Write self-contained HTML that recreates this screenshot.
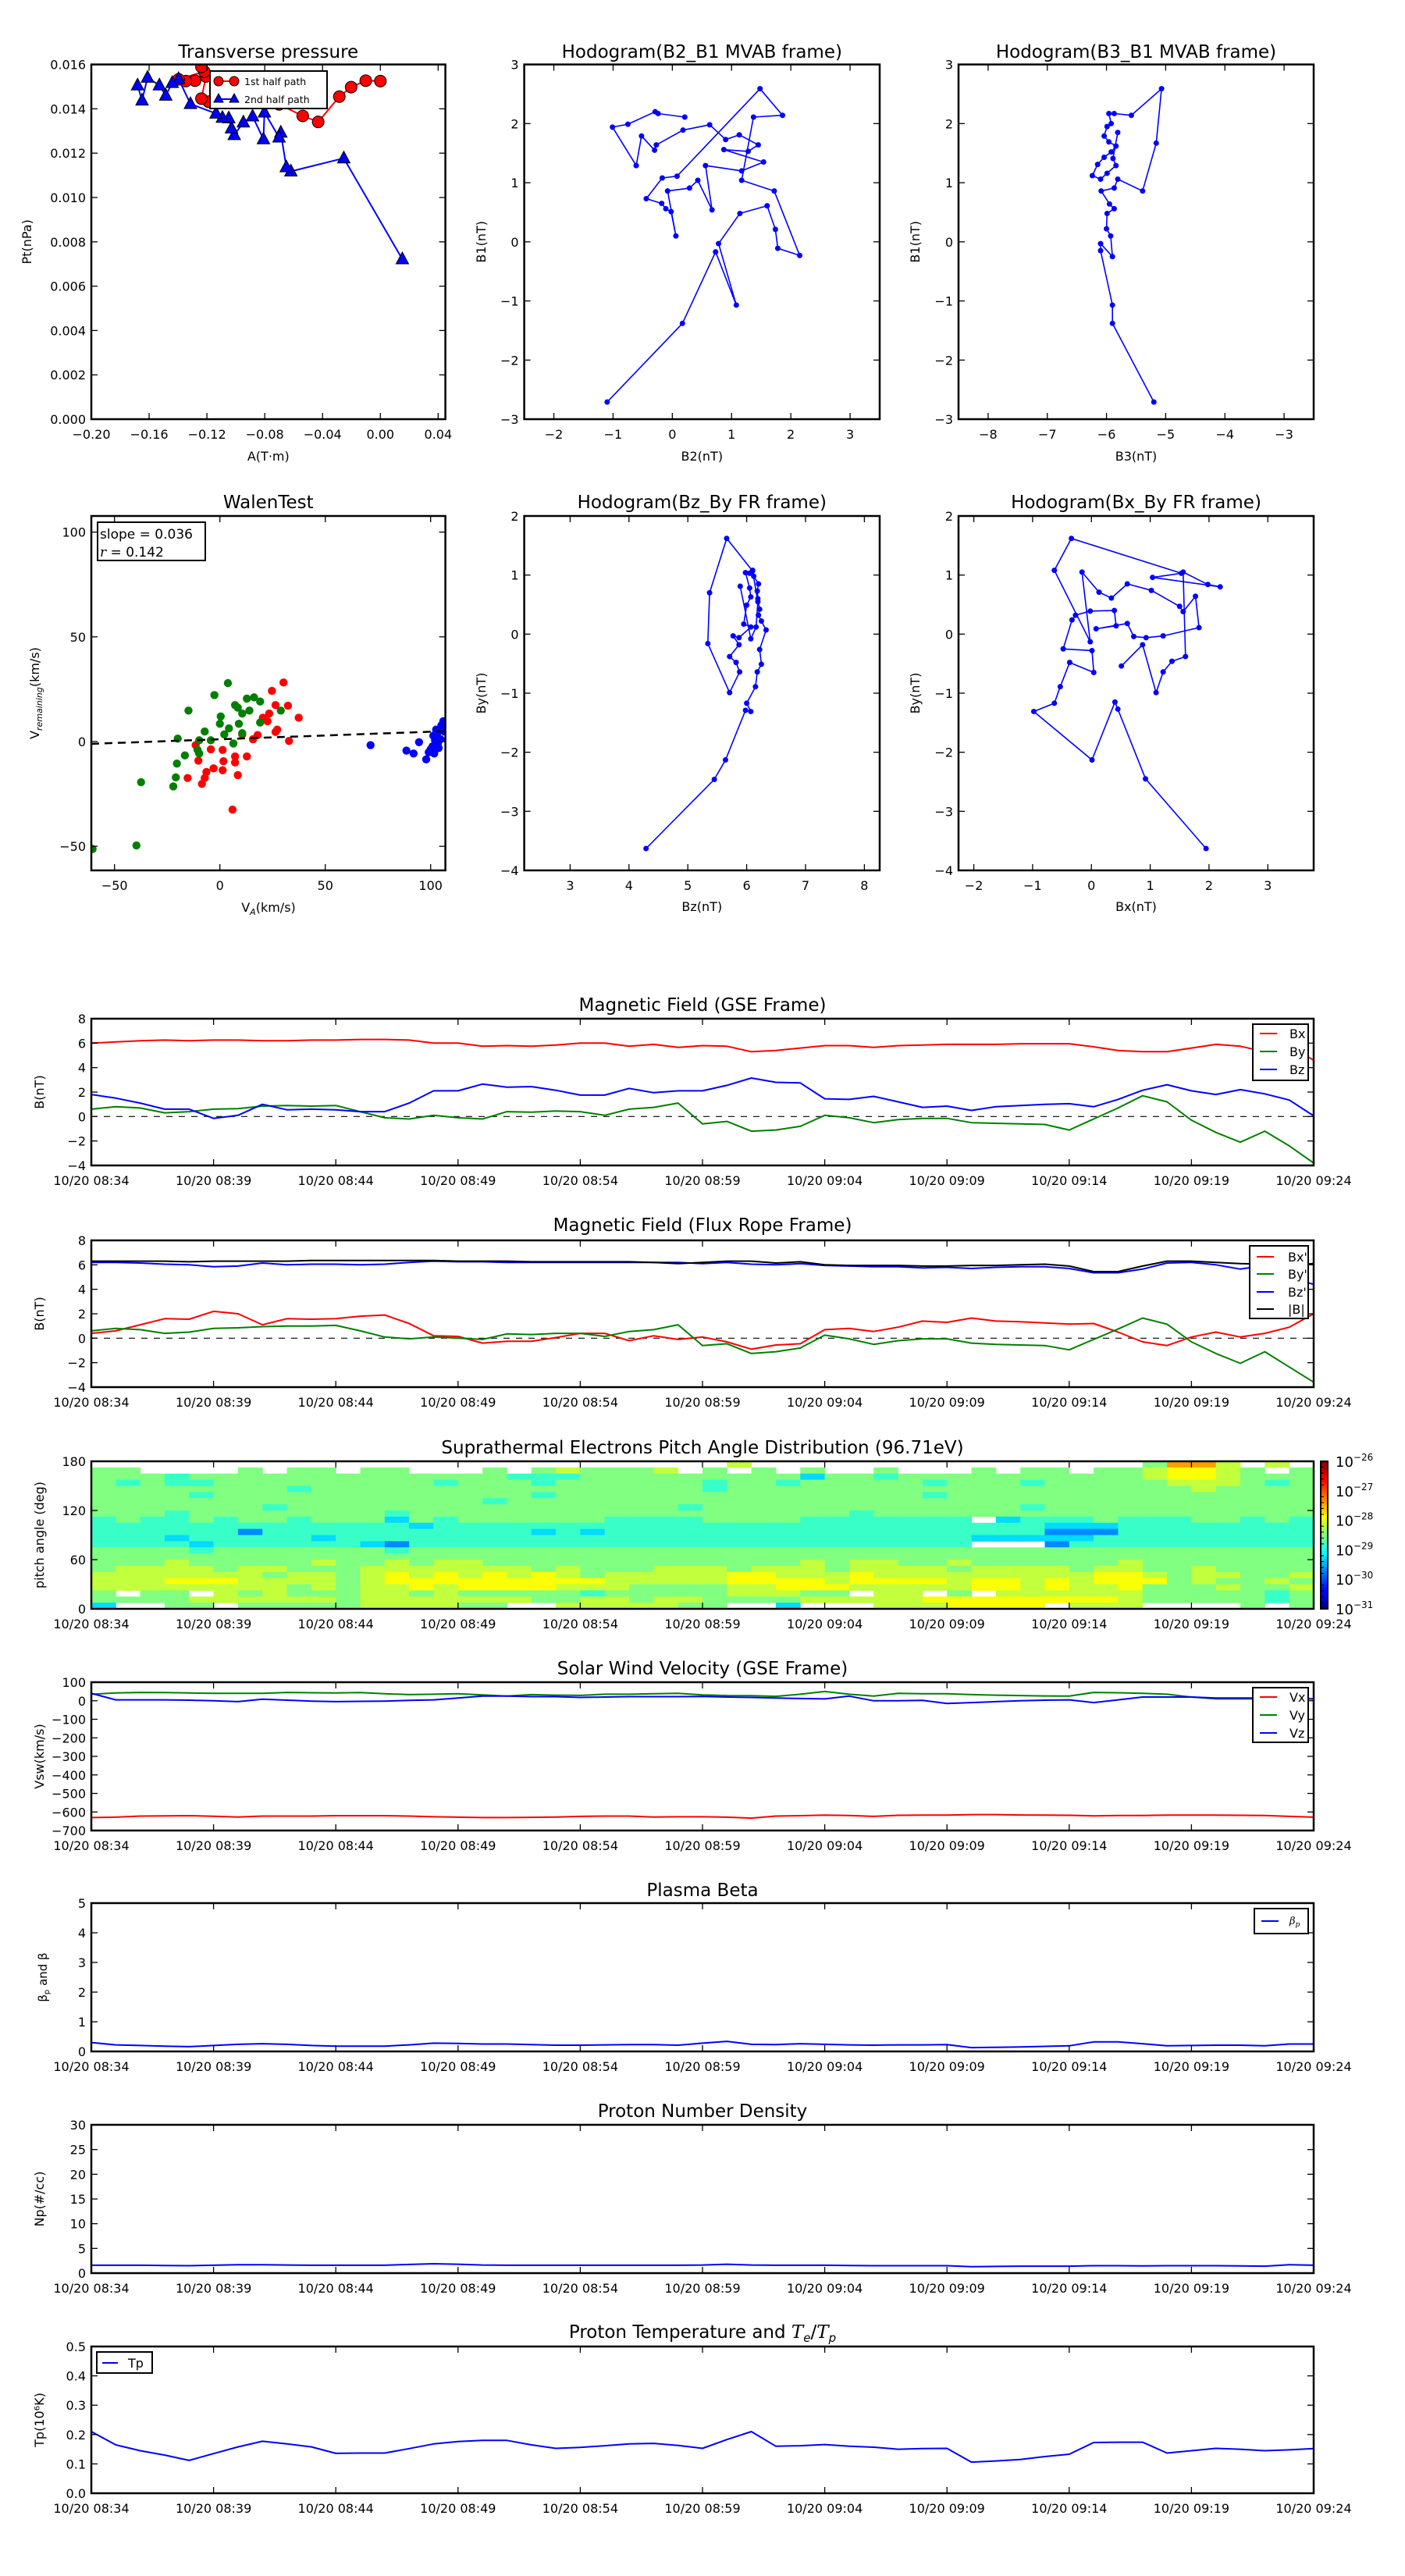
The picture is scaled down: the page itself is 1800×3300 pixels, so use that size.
<!DOCTYPE html>
<html><head><meta charset="utf-8">
<style>
html,body{margin:0;padding:0;background:#fff;}
svg{display:block;font-family:"DejaVu Sans","Liberation Sans",sans-serif;}
</style></head>
<body>
<svg id="fig" width="1800" height="3300" viewBox="0 0 1800 3300" xmlns="http://www.w3.org/2000/svg">
<defs>
<linearGradient id="jetgrad" x1="0" y1="1" x2="0" y2="0">
<stop offset="0" stop-color="#00007f"/><stop offset="0.11" stop-color="#0000ff"/><stop offset="0.125" stop-color="#0000ff"/><stop offset="0.34" stop-color="#00d4ff"/><stop offset="0.375" stop-color="#0ff"/><stop offset="0.5" stop-color="#7fff7f"/><stop offset="0.625" stop-color="#ff0"/><stop offset="0.66" stop-color="#ffd000"/><stop offset="0.875" stop-color="#ff0000"/><stop offset="1" stop-color="#7f0000"/>
</linearGradient>
</defs>
</svg>
<script>
// ---------- DATA ----------
const minutes = [0,1,2,3,4,5,6,7,8,9,10,11,12,13,14,15,16,17,18,19,20,21,22,23,24,25,26,27,28,29,30,31,32,33,34,35,36,37,38,39,40,41,42,43,44,45,46,47,48,49,50];
const timeTickMinutes = [0,5,10,15,20,25,30,35,40,45,50];
const timeTickLabels = ["10/20 08:34","10/20 08:39","10/20 08:44","10/20 08:49","10/20 08:54","10/20 08:59","10/20 09:04","10/20 09:09","10/20 09:14","10/20 09:19","10/20 09:24"];

const bxGse = [6.0,6.1,6.2,6.25,6.2,6.25,6.25,6.2,6.2,6.25,6.25,6.3,6.3,6.25,6.0,6.0,5.75,5.8,5.75,5.85,6.0,6.0,5.75,5.9,5.65,5.8,5.75,5.3,5.4,5.6,5.8,5.8,5.65,5.8,5.85,5.9,5.9,5.9,5.95,5.95,5.95,5.7,5.4,5.3,5.3,5.6,5.9,5.75,5.3,5.8,4.6];
const byGse = [0.6,0.8,0.7,0.3,0.4,0.6,0.65,0.85,0.9,0.85,0.9,0.4,-0.1,-0.2,0.1,-0.1,-0.2,0.4,0.35,0.45,0.4,0.1,0.6,0.75,1.1,-0.6,-0.4,-1.2,-1.1,-0.8,0.1,-0.1,-0.5,-0.25,-0.15,-0.15,-0.5,-0.55,-0.6,-0.65,-1.1,-0.2,0.7,1.7,1.2,-0.3,-1.3,-2.1,-1.2,-2.4,-3.8];
const bzGse = [1.8,1.5,1.1,0.6,0.6,-0.15,0.1,1.0,0.55,0.6,0.55,0.4,0.4,1.1,2.1,2.1,2.65,2.4,2.45,2.15,1.75,1.75,2.3,1.95,2.1,2.1,2.55,3.15,2.8,2.75,1.45,1.4,1.65,1.2,0.75,0.85,0.5,0.8,0.9,1.0,1.05,0.8,1.4,2.15,2.6,2.1,1.8,2.2,1.85,1.35,0.05];

const bxFr = [0.4,0.6,1.1,1.6,1.55,2.2,2.0,1.1,1.6,1.55,1.6,1.8,1.9,1.2,0.2,0.15,-0.4,-0.25,-0.25,0.05,0.4,0.4,-0.2,0.2,-0.1,0.1,-0.3,-0.9,-0.55,-0.45,0.7,0.8,0.55,0.9,1.4,1.3,1.65,1.4,1.35,1.25,1.15,1.2,0.5,-0.3,-0.6,0.1,0.5,0.1,0.4,0.9,2.0];
const byFr = [0.6,0.8,0.7,0.4,0.5,0.8,0.85,0.95,1.0,1.0,1.05,0.6,0.1,-0.05,0.1,0.0,-0.1,0.35,0.3,0.4,0.4,0.15,0.55,0.7,1.1,-0.6,-0.45,-1.25,-1.1,-0.8,0.25,-0.05,-0.5,-0.2,-0.05,-0.05,-0.4,-0.5,-0.55,-0.6,-0.95,-0.1,0.75,1.65,1.15,-0.3,-1.25,-2.05,-1.1,-2.35,-3.6];
const bzFr = [6.2,6.2,6.15,6.05,6.0,5.85,5.9,6.15,6.0,6.05,6.05,6.0,6.05,6.2,6.3,6.25,6.25,6.2,6.2,6.2,6.2,6.2,6.2,6.2,6.2,6.1,6.2,6.05,6.0,6.1,5.95,5.9,5.85,5.85,5.75,5.8,5.7,5.8,5.85,5.85,5.7,5.35,5.35,5.65,6.15,6.2,6.0,5.65,5.95,5.0,4.4];
const bmagFr = [6.3,6.3,6.3,6.3,6.25,6.3,6.3,6.3,6.3,6.35,6.35,6.35,6.35,6.35,6.35,6.3,6.3,6.3,6.25,6.25,6.25,6.25,6.25,6.2,6.1,6.2,6.3,6.3,6.15,6.25,6.0,5.95,5.95,5.95,5.9,5.9,5.95,5.95,6.0,6.05,5.9,5.45,5.45,5.9,6.3,6.3,6.2,6.1,6.05,6.0,6.1];

const vxSw = [-630,-628,-622,-621,-620,-623,-627,-622,-622,-622,-620,-620,-620,-622,-626,-628,-630,-630,-629,-627,-624,-622,-622,-627,-626,-626,-628,-633,-622,-620,-617,-619,-624,-618,-617,-617,-614,-614,-616,-617,-618,-621,-619,-619,-617,-617,-617,-618,-619,-624,-628];
const vySw = [35,42,45,44,42,40,40,40,45,43,42,44,38,33,35,38,32,25,33,30,29,35,35,38,40,32,28,27,24,35,50,35,25,40,38,38,33,30,28,26,25,45,43,40,35,20,10,10,10,10,10];
const vzSw = [40,5,5,5,3,0,-5,8,3,-2,-5,-3,-2,2,5,15,25,25,22,22,18,20,22,22,22,23,20,18,15,12,10,25,0,0,2,-15,-10,-5,0,3,5,-10,5,20,20,20,15,15,15,15,10];

const betaP = [0.3,0.22,0.2,0.18,0.16,0.2,0.24,0.26,0.24,0.2,0.18,0.18,0.18,0.22,0.28,0.27,0.25,0.25,0.23,0.21,0.21,0.22,0.23,0.23,0.21,0.28,0.34,0.24,0.23,0.26,0.24,0.22,0.21,0.22,0.22,0.23,0.13,0.14,0.15,0.17,0.19,0.32,0.32,0.26,0.19,0.2,0.21,0.21,0.19,0.25,0.25];
const npDensity = [1.6,1.6,1.6,1.55,1.5,1.6,1.7,1.7,1.65,1.6,1.6,1.6,1.6,1.75,1.9,1.8,1.65,1.6,1.6,1.6,1.6,1.6,1.6,1.6,1.6,1.65,1.8,1.65,1.6,1.6,1.6,1.55,1.5,1.5,1.5,1.5,1.3,1.35,1.4,1.4,1.4,1.5,1.5,1.45,1.5,1.5,1.5,1.45,1.4,1.7,1.6];
const tpTemp = [0.21,0.165,0.145,0.13,0.112,0.135,0.158,0.177,0.168,0.158,0.136,0.137,0.137,0.152,0.168,0.176,0.18,0.18,0.165,0.153,0.156,0.162,0.168,0.17,0.163,0.153,0.183,0.21,0.16,0.162,0.166,0.16,0.157,0.15,0.152,0.153,0.106,0.11,0.115,0.125,0.133,0.173,0.174,0.174,0.137,0.145,0.153,0.15,0.145,0.148,0.152];

// pitch angle distribution: rows top (172.5-180 deg) to bottom (0-7.5 deg); digit = level, '.' = no data
const padRows = [
"..........|..........|......6...|..........|...5886.6.",
"55....5.55|.55...5.56|5556.5.5.5|..5...5.55|.5567765.5",
"5554555555|5555555444|5555555553|5545555555|5556776555",
"5454455555|5555455545|5555545545|5555455545|5555666545",
"5555555545|5555555555|5555545555|5555555555|5555565555",
"5555455555|5555555545|5555555555|5555455555|5555555555",
"5555555555|5555554555|5555555555|5555555555|5555555555",
"5555555455|5555555555|5555455555|5555555545|5555555555",
"5554555555|5545555555|5555555555|5455555555|5555555555",
"4544545545|5535455555|5444455554|444444.344|4544455454",
"4444444444|4443444444|4444444444|4444444443|3344444444",
"4444442444|4444444434|3444444444|4444444442|2244444444",
"4443444443|4444444444|4444444444|4444443333|3444444444",
"4444344444|4324444444|4444444444|444444...2|4444444444",
"5555455555|5545555555|5555555555|5555555555|5555555555",
"5555555555|5555555555|5555555555|5555555555|5555555555",
"5556555556|5565665555|5555555556|5665565555|5565555555",
"5666656655|5666666656|5556665666|5666656666|5665565555",
"6666666566|5676767676|5666667766|6766666666|6776566556",
"6667776666|5677777777|7666667777|6777767767|6777565565",
"6666666656|5667677776|6655556677|7666667767|6675556556",
"5.55.65655|5665655555|4555556665|5.66.5.666|6665555545",
"5555666666|5666666655|6656655556|6666777777|7765555545",
"3..55.5555|5666655..6|666655..3.|..6667777.|666....5.5"
];
const padBinDeg = 7.5;
const padLevelLog = [-30.5,-30.1,-29.7,-29.3,-28.85,-28.5,-28.175,-27.9,-27.4,-26.9];
const cbarTickExp = [-31,-30,-29,-28,-27,-26];

// transverse pressure
const tpA1 = [0,-0.0101,-0.0202,-0.0284,-0.043,-0.0537,-0.07,-0.09,-0.11,-0.1188,-0.1238,-0.1207,-0.1282,-0.1346,-0.1396,-0.1219,-0.1238];
const tpP1 = [0.01525,0.01527,0.01498,0.01455,0.01341,0.01368,0.0142,0.0143,0.0143,0.01432,0.01446,0.01546,0.01527,0.01525,0.01533,0.01568,0.01589];
const tpA2 = [0.0152,-0.0253,-0.0619,-0.0651,-0.0689,-0.0701,-0.0802,-0.0809,-0.0884,-0.0948,-0.1011,-0.103,-0.1049,-0.1093,-0.1137,-0.1314,-0.1396,-0.144,-0.1485,-0.1529,-0.1611,-0.1649,-0.168];
const tpP2 = [0.00722,0.01177,0.01118,0.01137,0.01293,0.01271,0.01384,0.01263,0.01366,0.01339,0.01282,0.01312,0.01358,0.0136,0.01379,0.01422,0.01535,0.01517,0.0146,0.01506,0.01541,0.01438,0.01506];

// hodogram B2-B1
const hB2 = [-1.10,0.17,0.73,1.08,0.78,1.14,1.60,1.74,1.78,2.15,1.72,1.17,1.37,1.86,1.48,0.08,-0.17,-0.44,-0.18,-0.11,-0.02,0.06,-0.08,0.29,0.43,0.67,0.56,1.17,1.54,0.87,1.28,1.45,1.13,0.90,0.63,0.18,-0.27,-0.30,-0.52,-0.61,-1.01,-0.75,-0.29,-0.24,0.21];
const hB1a = [-2.71,-1.38,-0.17,-1.07,-0.03,0.48,0.61,0.21,-0.11,-0.23,0.86,1.04,2.11,2.14,2.59,1.11,1.08,0.73,0.65,0.56,0.51,0.10,0.86,0.91,1.04,0.54,1.29,1.20,1.35,1.56,1.53,1.64,1.81,1.73,1.98,1.89,1.64,1.55,1.79,1.29,1.94,1.99,2.20,2.17,2.11];
// hodogram B3-B1
const hB3 = [-5.20,-5.90,-5.90,-6.10,-6.10,-5.90,-5.93,-6.00,-5.99,-5.87,-5.95,-6.09,-5.87,-5.81,-5.39,-5.16,-5.07,-5.58,-5.87,-5.96,-5.92,-5.99,-6.04,-5.96,-5.84,-5.92,-6.04,-6.15,-6.24,-6.10,-5.99,-5.84,-5.89,-5.81];
const hB1b = [-2.71,-1.38,-1.07,-0.15,-0.03,-0.25,0.10,0.22,0.48,0.56,0.64,0.86,0.91,1.06,0.86,1.67,2.59,2.14,2.17,2.17,2.00,1.95,1.79,1.69,1.62,1.52,1.43,1.31,1.12,1.06,1.16,1.29,1.41,1.85];

// Walen test
const walenRedVA = [30.2,24.7,32.3,26.4,37.4,20.4,22.6,27.2,26.4,32.8,17.9,15.7,12.8,7.2,7.2,1.3,1.7,1.3,-3.0,-6.4,-7.2,8.5,-8.5,-15.3,6.0,-10.2,-11.5,-4.3,10.6,23.4];
const walenRedVR = [28.2,24.2,17.1,17.4,11.4,11.4,9.7,5.7,4.6,0.3,3.1,1.1,-7.1,-7.1,-10.0,-4.0,-9.4,-13.7,-12.8,-14.5,-17.4,-16.0,-20.2,-17.4,-32.5,-9.1,-1.7,-3.7,3.4,13.4];
const walenGreenVA = [3.8,-2.6,-14.9,7.2,12.8,16.2,19.1,14.0,10.6,8.5,0.4,0.0,4.3,9.0,10.6,6.4,-7.2,-9.8,-20.0,-10.6,-16.6,-20.4,-20.9,-22.1,-37.4,-39.6,-60.4,19.1,28.9,2.1,-4.3,-9.8];
const walenGreenVR = [27.9,22.2,14.8,17.4,20.5,21.1,19.1,14.8,13.4,16.2,12.0,8.5,6.3,8.5,4.0,-0.9,4.8,0.6,1.4,-4.0,-6.6,-10.5,-17.1,-21.4,-19.4,-49.6,-51.3,9.1,14.8,3.4,0.6,-5.7];
const walenBlueVA = [71.5,88.5,91.9,94.5,97.9,99.1,100.9,102.1,103.0,104.3,105.1,106.0,101.3,103.4,100.0,102.6,104.7,101.7,103.8,106.4];
const walenBlueVR = [-1.7,-4.3,-5.7,-0.3,-8.5,-5.1,-2.3,0.6,3.4,5.7,7.7,9.7,2.8,-0.9,-3.7,5.7,1.1,-5.7,-3.1,4.8];
const walenSlope = [0.036];
const walenIntercept = [1.1];

// hodogram Bz-By (FR)
const hBz = [4.29,5.45,5.64,5.98,6.07,6.00,6.15,6.18,6.25,6.22,6.33,6.25,6.20,6.22,6.19,6.18,6.20,6.12,6.10,6.05,5.98,6.05,6.07,6.00,5.95,6.07,5.87,5.77,5.87,5.71,5.82,5.88,5.71,5.34,5.37,5.66,6.10,6.19,6.16,6.07,5.89];
const hByA = [-3.63,-2.46,-2.13,-1.29,-1.31,-1.17,-0.89,-0.64,-0.51,-0.26,0.07,0.22,0.32,0.42,0.60,0.73,0.85,0.98,1.08,1.03,1.04,0.78,0.63,0.49,0.17,0.12,-0.06,-0.03,-0.18,-0.38,-0.48,-0.64,-0.99,-0.16,0.70,1.62,1.07,0.55,0.12,-0.08,0.81];
// hodogram Bx-By (FR)
const hBx = [1.95,0.92,0.45,0.40,0.01,-0.98,-0.63,-0.53,-0.37,0.04,0.01,-0.48,-0.33,-0.27,-0.02,0.39,0.42,0.08,0.61,0.72,0.93,1.22,1.83,1.77,1.56,1.50,1.02,0.61,0.34,0.13,-0.16,-0.02,-0.63,-0.34,1.53,1.04,2.19,1.98,1.56,1.60,1.37,1.22,1.10,0.87,0.51];
const hByB = [-3.63,-2.45,-1.27,-1.15,-2.13,-1.31,-1.17,-0.89,-0.48,-0.65,-0.28,-0.25,0.24,0.32,0.39,0.40,0.14,0.09,0.18,-0.04,-0.06,-0.03,0.11,0.64,0.38,0.47,0.74,0.85,0.61,0.71,1.05,-0.13,1.08,1.62,1.03,0.96,0.80,0.84,1.05,-0.38,-0.46,-0.64,-0.99,-0.18,-0.54];

// ---------- DRAWING ----------
const NS='http://www.w3.org/2000/svg';
const svg=document.getElementById('fig');
let clipCount=0;
function mk(parent, tag, attrs, name){
  const e=document.createElementNS(NS,tag);
  for(const k in attrs) e.setAttribute(k,attrs[k]);
  
  
  (parent||svg).appendChild(e);
  return e;
}
function txt(parent, x, y, s, size, anchor, name, extra){
  const a={x:x,y:y,'font-size':size,'text-anchor':anchor||'middle',fill:'#000'};
  if(extra) for(const k in extra) a[k]=extra[k];
  const t=mk(parent,'text',a,name);
  t.textContent=s;
  return t;
}

function makeAxes(cfg){
  const g=mk(svg,'g',{},cfg.name);
  const b=cfg.box;
  const sx=v=>b[0]+(v-cfg.xd[0])/(cfg.xd[1]-cfg.xd[0])*(b[2]-b[0]);
  const sy=v=>b[3]-(v-cfg.yd[0])/(cfg.yd[1]-cfg.yd[0])*(b[3]-b[1]);
  const cid='clip'+(clipCount++);
  const cp=mk(g,'clipPath',{id:cid},cfg.name+'-clip');
  mk(cp,'rect',{x:b[0],y:b[1],width:b[2]-b[0],height:b[3]-b[1]},cfg.name+'-clip-rect');
  const data=mk(g,'g',{'clip-path':'url(#'+cid+')'},cfg.name+'-data');
  const ax=mk(g,'g',{},cfg.name+'-axes');
  cfg.xt.forEach((v,i)=>{
    const x=sx(v);
    mk(ax,'line',{x1:x,x2:x,y1:b[3],y2:b[3]-8,stroke:'#000','stroke-width':1.3},'x-tick');
    mk(ax,'line',{x1:x,x2:x,y1:b[1],y2:b[1]+8,stroke:'#000','stroke-width':1.3},'x-tick-top');
    txt(ax,x,b[3]+25,cfg.xl[i],16,'middle','x-tick-label');
  });
  cfg.yt.forEach((v,i)=>{
    const y=sy(v);
    mk(ax,'line',{x1:b[0],x2:b[0]+8,y1:y,y2:y,stroke:'#000','stroke-width':1.3},'y-tick');
    mk(ax,'line',{x1:b[2],x2:b[2]-8,y1:y,y2:y,stroke:'#000','stroke-width':1.3},'y-tick-right');
    txt(ax,b[0]-7,y+6,cfg.yl[i],16,'end','y-tick-label');
  });
  mk(ax,'rect',{x:b[0],y:b[1],width:b[2]-b[0],height:b[3]-b[1],fill:'none',stroke:'#000','stroke-width':2.5},cfg.name+'-frame');
  if(cfg.title) txt(ax,(b[0]+b[2])/2,cfg.titleY,cfg.title,23,'middle',cfg.name+'-title');
  if(cfg.xlab) txt(ax,(b[0]+b[2])/2,cfg.xlabY,cfg.xlab,16,'middle','x-axis-title');
  if(cfg.ylab){
    const yy=(b[1]+b[3])/2;
    txt(ax,cfg.ylabX,yy,cfg.ylab,16,'middle','y-axis-title',{transform:'rotate(-90 '+cfg.ylabX+' '+yy+')'});
  }
  return {sx,sy,data,ax,g};
}
function polyline(A,xs,ys,color,name,extra){
  const pts=xs.map((x,i)=>A.sx(x).toFixed(1)+','+A.sy(ys[i]).toFixed(1)).join(' ');
  const a={points:pts,fill:'none',stroke:color,'stroke-width':2,'stroke-linejoin':'round'};
  if(extra) for(const k in extra) a[k]=extra[k];
  return mk(A.data,'polyline',a,name);
}
function dots(A,xs,ys,color,r,name){
  xs.forEach((x,i)=>{ mk(A.data,'circle',{cx:A.sx(x),cy:A.sy(ys[i]),r:r,fill:color,stroke:'none'},name); });
}
function legend(x0,y0,x1,y1,items,name,lineX0,lineX1,textX,ys){
  const g=mk(svg,'g',{},name);
  mk(g,'rect',{x:x0,y:y0,width:x1-x0,height:y1-y0,fill:'#fff',stroke:'#000','stroke-width':2},name+'-box');
  items.forEach((it,i)=>{
    mk(g,'line',{x1:lineX0,x2:lineX1,y1:ys[i],y2:ys[i],stroke:it[1],'stroke-width':2},'legend-line-'+it[0]);
    txt(g,textX,ys[i]+6,it[0],16,'start','legend-entry-'+it[0]);
  });
  return g;
}

// ---------- TOP ROW ----------
const r1=[82.6,537], r2=[661,1115];
const ax1=makeAxes({name:'transverse-pressure-chart',box:[117,r1[0],570.6,r1[1]],xd:[-0.2,0.045],yd:[0,0.016],
  xt:[-0.2,-0.16,-0.12,-0.08,-0.04,0,0.04],xl:['\u22120.20','\u22120.16','\u22120.12','\u22120.08','\u22120.04','0.00','0.04'],
  yt:[0,0.002,0.004,0.006,0.008,0.01,0.012,0.014,0.016],yl:['0.000','0.002','0.004','0.006','0.008','0.010','0.012','0.014','0.016'],
  title:'Transverse pressure',titleY:74,xlab:'A(T\u00b7m)',xlabY:590,ylab:'Pt(nPa)',ylabX:40});
polyline(ax1,tpA1,tpP1,'red','first-half-path-line');
tpA1.forEach((x,i)=>{ mk(ax1.data,'circle',{cx:ax1.sx(x),cy:ax1.sy(tpP1[i]),r:7.5,fill:'red',stroke:'#000','stroke-width':1},'first-half-marker'); });
polyline(ax1,tpA2,tpP2,'blue','second-half-path-line');
tpA2.forEach((x,i)=>{ const cx=ax1.sx(x), cy=ax1.sy(tpP2[i]);
  mk(ax1.data,'polygon',{points:(cx)+','+(cy-9)+' '+(cx-8)+','+(cy+6)+' '+(cx+8)+','+(cy+6),fill:'blue',stroke:'#000','stroke-width':1},'second-half-marker'); });
{ const g=mk(svg,'g',{},'transverse-legend');
  mk(g,'rect',{x:269,y:91,width:150,height:48,fill:'#fff',stroke:'#000','stroke-width':2},'transverse-legend-box');
  mk(g,'line',{x1:280,x2:302,y1:104,y2:104,stroke:'red','stroke-width':2},'legend-line-first');
  mk(g,'circle',{cx:280,cy:104,r:6,fill:'red',stroke:'#000'},'legend-marker-first');
  mk(g,'circle',{cx:300,cy:104,r:6,fill:'red',stroke:'#000'},'legend-marker-first');
  txt(g,313,109,'1st half path',12.5,'start','legend-entry-first-half');
  mk(g,'line',{x1:280,x2:302,y1:127,y2:127,stroke:'blue','stroke-width':2},'legend-line-second');
  mk(g,'polygon',{points:'280,120 274,131 286,131',fill:'blue',stroke:'#000'},'legend-marker-second');
  mk(g,'polygon',{points:'300,120 294,131 306,131',fill:'blue',stroke:'#000'},'legend-marker-second');
  txt(g,313,132,'2nd half path',12.5,'start','legend-entry-second-half');
}

const ax2=makeAxes({name:'hodogram-b2-b1-chart',box:[671.6,r1[0],1127,r1[1]],xd:[-2.5,3.5],yd:[-3,3],
  xt:[-2,-1,0,1,2,3],xl:['\u22122','\u22121','0','1','2','3'],yt:[-3,-2,-1,0,1,2,3],yl:['\u22123','\u22122','\u22121','0','1','2','3'],
  title:'Hodogram(B2_B1 MVAB frame)',titleY:74,xlab:'B2(nT)',xlabY:590,ylab:'B1(nT)',ylabX:622});
polyline(ax2,hB2,hB1a,'blue','hodogram-b2-b1-line',{'stroke-width':1.6});
dots(ax2,hB2,hB1a,'blue',3.5,'hodogram-b2-b1-point');

const ax3=makeAxes({name:'hodogram-b3-b1-chart',box:[1228,r1[0],1683,r1[1]],xd:[-8.5,-2.5],yd:[-3,3],
  xt:[-8,-7,-6,-5,-4,-3],xl:['\u22128','\u22127','\u22126','\u22125','\u22124','\u22123'],yt:[-3,-2,-1,0,1,2,3],yl:['\u22123','\u22122','\u22121','0','1','2','3'],
  title:'Hodogram(B3_B1 MVAB frame)',titleY:74,xlab:'B3(nT)',xlabY:590,ylab:'B1(nT)',ylabX:1178});
polyline(ax3,hB3,hB1b,'blue','hodogram-b3-b1-line',{'stroke-width':1.6});
dots(ax3,hB3,hB1b,'blue',3.5,'hodogram-b3-b1-point');

// ---------- SECOND ROW ----------
const ax4=makeAxes({name:'walen-test-chart',box:[117,r2[0],570.6,r2[1]],xd:[-61,107],yd:[-61.5,107.7],
  xt:[-50,0,50,100],xl:['\u221250','0','50','100'],yt:[-50,0,50,100],yl:['\u221250','0','50','100'],
  title:'WalenTest',titleY:651,xlab:'',xlabY:0,ylab:'',ylabX:40});
dots(ax4,walenRedVA,walenRedVR,'#ff0000',5.2,'walen-red-point');
dots(ax4,walenGreenVA,walenGreenVR,'#007f00',5.2,'walen-green-point');
dots(ax4,walenBlueVA,walenBlueVR,'#0000ff',5.2,'walen-blue-point');
{ const xs=[-61,107]; const ys=xs.map(x=>walenSlope[0]*x+walenIntercept[0]);
  polyline(ax4,xs,ys,'#000','walen-fit-line',{'stroke-dasharray':'10,7','stroke-width':2.5}); }
{ const g=mk(svg,'g',{},'walen-stats-box');
  mk(g,'rect',{x:125,y:669,width:138,height:49,fill:'#fff',stroke:'#000','stroke-width':2},'walen-stats-frame');
  txt(g,128,690,'slope = 0.036',17,'start','walen-slope-text');
  const t=txt(g,128,713,'',17,'start','walen-r-text');
  const a=document.createElementNS(NS,'tspan'); a.setAttribute('font-style','italic'); a.setAttribute('font-family','"DejaVu Serif",serif'); a.textContent='r'; t.appendChild(a);
  const b=document.createElementNS(NS,'tspan'); b.textContent=' = 0.142'; t.appendChild(b);
  const xl=txt(svg,344,1168,'V',16,'middle','walen-x-axis-title');
  const s1=document.createElementNS(NS,'tspan'); s1.setAttribute('font-size','11'); s1.setAttribute('font-style','italic'); s1.setAttribute('dy','4'); s1.textContent='A'; xl.appendChild(s1);
  const s2=document.createElementNS(NS,'tspan'); s2.setAttribute('dy','-4'); s2.textContent='(km/s)'; xl.appendChild(s2);
  const yl=txt(svg,50,888,'V',16,'middle','walen-y-axis-title',{transform:'rotate(-90 50 888)'});
  const s3=document.createElementNS(NS,'tspan'); s3.setAttribute('font-size','11'); s3.setAttribute('font-style','italic'); s3.setAttribute('dy','4'); s3.textContent='remaining'; yl.appendChild(s3);
  const s4=document.createElementNS(NS,'tspan'); s4.setAttribute('dy','-4'); s4.textContent='(km/s)'; yl.appendChild(s4);
}

const ax5=makeAxes({name:'hodogram-bz-by-chart',box:[671.6,r2[0],1127,r2[1]],xd:[2.22,8.26],yd:[-4,2],
  xt:[3,4,5,6,7,8],xl:['3','4','5','6','7','8'],yt:[-4,-3,-2,-1,0,1,2],yl:['\u22124','\u22123','\u22122','\u22121','0','1','2'],
  title:'Hodogram(Bz_By FR frame)',titleY:651,xlab:'Bz(nT)',xlabY:1167,ylab:'By(nT)',ylabX:622});
polyline(ax5,hBz,hByA,'blue','hodogram-bz-by-line',{'stroke-width':1.6});
dots(ax5,hBz,hByA,'blue',3.5,'hodogram-bz-by-point');

const ax6=makeAxes({name:'hodogram-bx-by-chart',box:[1228,r2[0],1683,r2[1]],xd:[-2.26,3.78],yd:[-4,2],
  xt:[-2,-1,0,1,2,3],xl:['\u22122','\u22121','0','1','2','3'],yt:[-4,-3,-2,-1,0,1,2],yl:['\u22124','\u22123','\u22122','\u22121','0','1','2'],
  title:'Hodogram(Bx_By FR frame)',titleY:651,xlab:'Bx(nT)',xlabY:1167,ylab:'By(nT)',ylabX:1178});
polyline(ax6,hBx,hByB,'blue','hodogram-bx-by-line',{'stroke-width':1.6});
dots(ax6,hBx,hByB,'blue',3.5,'hodogram-bx-by-point');

// ---------- TIME SERIES ----------
function timeAxes(name,top,bot,yd,yt,yl,title,titleY,ylab){
  return makeAxes({name:name,box:[117,top,1683,bot],xd:[0,50],yd:yd,xt:timeTickMinutes,xl:timeTickLabels,
    yt:yt,yl:yl,title:title,titleY:titleY,xlab:'',ylab:ylab,ylabX:56});
}
const bTicks=[-4,-2,0,2,4,6,8], bLabels=['\u22124','\u22122','0','2','4','6','8'];
const gse=timeAxes('magnetic-field-gse-chart',1305,1493,[-4,8],bTicks,bLabels,'Magnetic Field (GSE Frame)',1295,'B(nT)');
polyline(gse,[0,50],[0,0],'#000','zero-line',{'stroke-dasharray':'8,8','stroke-width':1.2});
polyline(gse,minutes,bxGse,'red','bx-gse-line');
polyline(gse,minutes,byGse,'green','by-gse-line');
polyline(gse,minutes,bzGse,'blue','bz-gse-line');
legend(1605,1312,1676,1384,[['Bx','red'],['By','green'],['Bz','blue']],'gse-legend',1614,1636,1652,[1324,1347,1370]);

const fr=timeAxes('magnetic-field-flux-rope-chart',1589,1777,[-4,8],bTicks,bLabels,'Magnetic Field (Flux Rope Frame)',1577,'B(nT)');
polyline(fr,[0,50],[0,0],'#000','zero-line',{'stroke-dasharray':'8,8','stroke-width':1.2});
polyline(fr,minutes,bxFr,'red','bx-fr-line');
polyline(fr,minutes,byFr,'green','by-fr-line');
polyline(fr,minutes,bzFr,'blue','bz-fr-line');
polyline(fr,minutes,bmagFr,'#000','bmag-fr-line');
legend(1601,1596,1676,1689,[["Bx'",'red'],["By'",'green'],["Bz'",'blue'],['|B|','#000']],'flux-rope-legend',1610,1632,1650,[1610,1632,1655,1677]);

// PAD heatmap
const pad=makeAxes({name:'pitch-angle-distribution-chart',box:[117,1872,1683,2061],xd:[0,50],yd:[0,180],xt:timeTickMinutes,xl:timeTickLabels,
  yt:[0,60,120,180],yl:['0','60','120','180'],title:'Suprathermal Electrons Pitch Angle Distribution (96.71eV)',titleY:1862,xlab:'',ylab:'pitch angle (deg)',ylabX:56});
function jet(f){ const c=v=>Math.round(255*Math.max(0,Math.min(1,v)));
  return 'rgb('+c(1.5-Math.abs(4*f-3))+','+c(1.5-Math.abs(4*f-2))+','+c(1.5-Math.abs(4*f-1))+')'; }
padRows.forEach((row,ri)=>{
  const s=row.replace(/\|/g,'');
  const bin=padRows.length-1-ri;
  for(let c=0;c<50;c++){
    const ch=s[c]; if(!ch||ch==='.') continue;
    const v=padLevelLog[+ch];
    const f=(v+31)/5;
    const x0=pad.sx(minutes[c]), x1=pad.sx(minutes[c+1]);
    const y0=pad.sy((bin+1)*padBinDeg), y1=pad.sy(bin*padBinDeg);
    mk(pad.data,'rect',{x:x0,y:y0,width:x1-x0+0.5,height:y1-y0+0.5,fill:jet(f)},'pad-cell');
  }
});
pad.g.appendChild(pad.ax);
{ const g=mk(svg,'g',{},'colorbar');
  mk(g,'rect',{x:1692,y:1872,width:9,height:189,fill:'url(#jetgrad)',stroke:'#000','stroke-width':2},'colorbar-gradient');
  cbarTickExp.forEach(e=>{
    const y=2061-(e+31)/5*189;
    for(let k=1;k<5&&e<-26;k++){ const yy=y-k*189/25; mk(g,'line',{x1:1692,x2:1696,y1:yy,y2:yy,stroke:'#000','stroke-width':1},'colorbar-minor-tick'); }
    const t=txt(g,1711,y+7,'10',18,'start','colorbar-tick-label');
    const sp=document.createElementNS(NS,'tspan'); sp.setAttribute('font-size','12'); sp.setAttribute('dy','-8'); sp.textContent='\u2212'+(-e); t.appendChild(sp);
  });
}

const sw=timeAxes('solar-wind-velocity-chart',2155,2345,[-700,100],[-700,-600,-500,-400,-300,-200,-100,0,100],
  ['\u2212700','\u2212600','\u2212500','\u2212400','\u2212300','\u2212200','\u2212100','0','100'],'Solar Wind Velocity (GSE Frame)',2145,'Vsw(km/s)');
polyline(sw,minutes,vxSw,'red','vx-line');
polyline(sw,minutes,vySw,'green','vy-line');
polyline(sw,minutes,vzSw,'blue','vz-line');
legend(1605,2162,1676,2232,[['Vx','red'],['Vy','green'],['Vz','blue']],'velocity-legend',1614,1636,1652,[2174,2197,2220]);

const beta=timeAxes('plasma-beta-chart',2438,2628,[0,5],[0,1,2,3,4,5],['0','1','2','3','4','5'],'Plasma Beta',2429,'');
polyline(beta,minutes,betaP,'blue','beta-p-line');
{ const g=mk(svg,'g',{},'beta-legend');
  mk(g,'rect',{x:1607,y:2445,width:69,height:32,fill:'#fff',stroke:'#000','stroke-width':2},'beta-legend-box');
  mk(g,'line',{x1:1616,x2:1638,y1:2461,y2:2461,stroke:'blue','stroke-width':2},'legend-line-beta');
  const t=txt(g,1652,2465,'\u03b2',13,'start','legend-entry-beta-p',{'font-style':'italic','font-family':'"DejaVu Serif",serif'});
  const sp=document.createElementNS(NS,'tspan'); sp.setAttribute('font-size','9'); sp.setAttribute('dy','3'); sp.textContent='p'; t.appendChild(sp);
  const yl=txt(svg,60,2533,'\u03b2',15,'middle','beta-y-axis-title',{transform:'rotate(-90 60 2533)'});
  const a=document.createElementNS(NS,'tspan'); a.setAttribute('font-size','10'); a.setAttribute('dy','3'); a.textContent='p'; yl.appendChild(a);
  const b=document.createElementNS(NS,'tspan'); b.setAttribute('dy','-3'); b.textContent=' and \u03b2'; yl.appendChild(b);
}

const np=timeAxes('proton-density-chart',2722,2912,[0,30],[0,5,10,15,20,25,30],['0','5','10','15','20','25','30'],'Proton Number Density',2712,'Np(#/cc)');
polyline(np,minutes,npDensity,'blue','np-line');

const tp=timeAxes('proton-temperature-chart',3006,3194,[0,0.5],[0,0.1,0.2,0.3,0.4,0.5],['0.0','0.1','0.2','0.3','0.4','0.5'],'',0,'Tp(10\u2076K)');
polyline(tp,minutes,tpTemp,'blue','tp-line');
{ const t=txt(svg,900,2995,'Proton Temperature and ',23,'middle','proton-temperature-title');
  const a=document.createElementNS(NS,'tspan'); a.setAttribute('font-style','italic'); a.setAttribute('font-family','"DejaVu Serif",serif'); a.textContent='T'; t.appendChild(a);
  const b=document.createElementNS(NS,'tspan'); b.setAttribute('font-size','15'); b.setAttribute('font-style','italic'); b.setAttribute('dy','5'); b.textContent='e'; t.appendChild(b);
  const c=document.createElementNS(NS,'tspan'); c.setAttribute('dy','-5'); c.textContent='/'; t.appendChild(c);
  const d=document.createElementNS(NS,'tspan'); d.setAttribute('font-style','italic'); d.setAttribute('font-family','"DejaVu Serif",serif'); d.textContent='T'; t.appendChild(d);
  const e=document.createElementNS(NS,'tspan'); e.setAttribute('font-size','15'); e.setAttribute('font-style','italic'); e.setAttribute('dy','5'); e.textContent='p'; t.appendChild(e);
}
legend(124,3013,195,3040,[['Tp','blue']],'tp-legend',131,151,164,[3027]);
</script>
</body></html>
